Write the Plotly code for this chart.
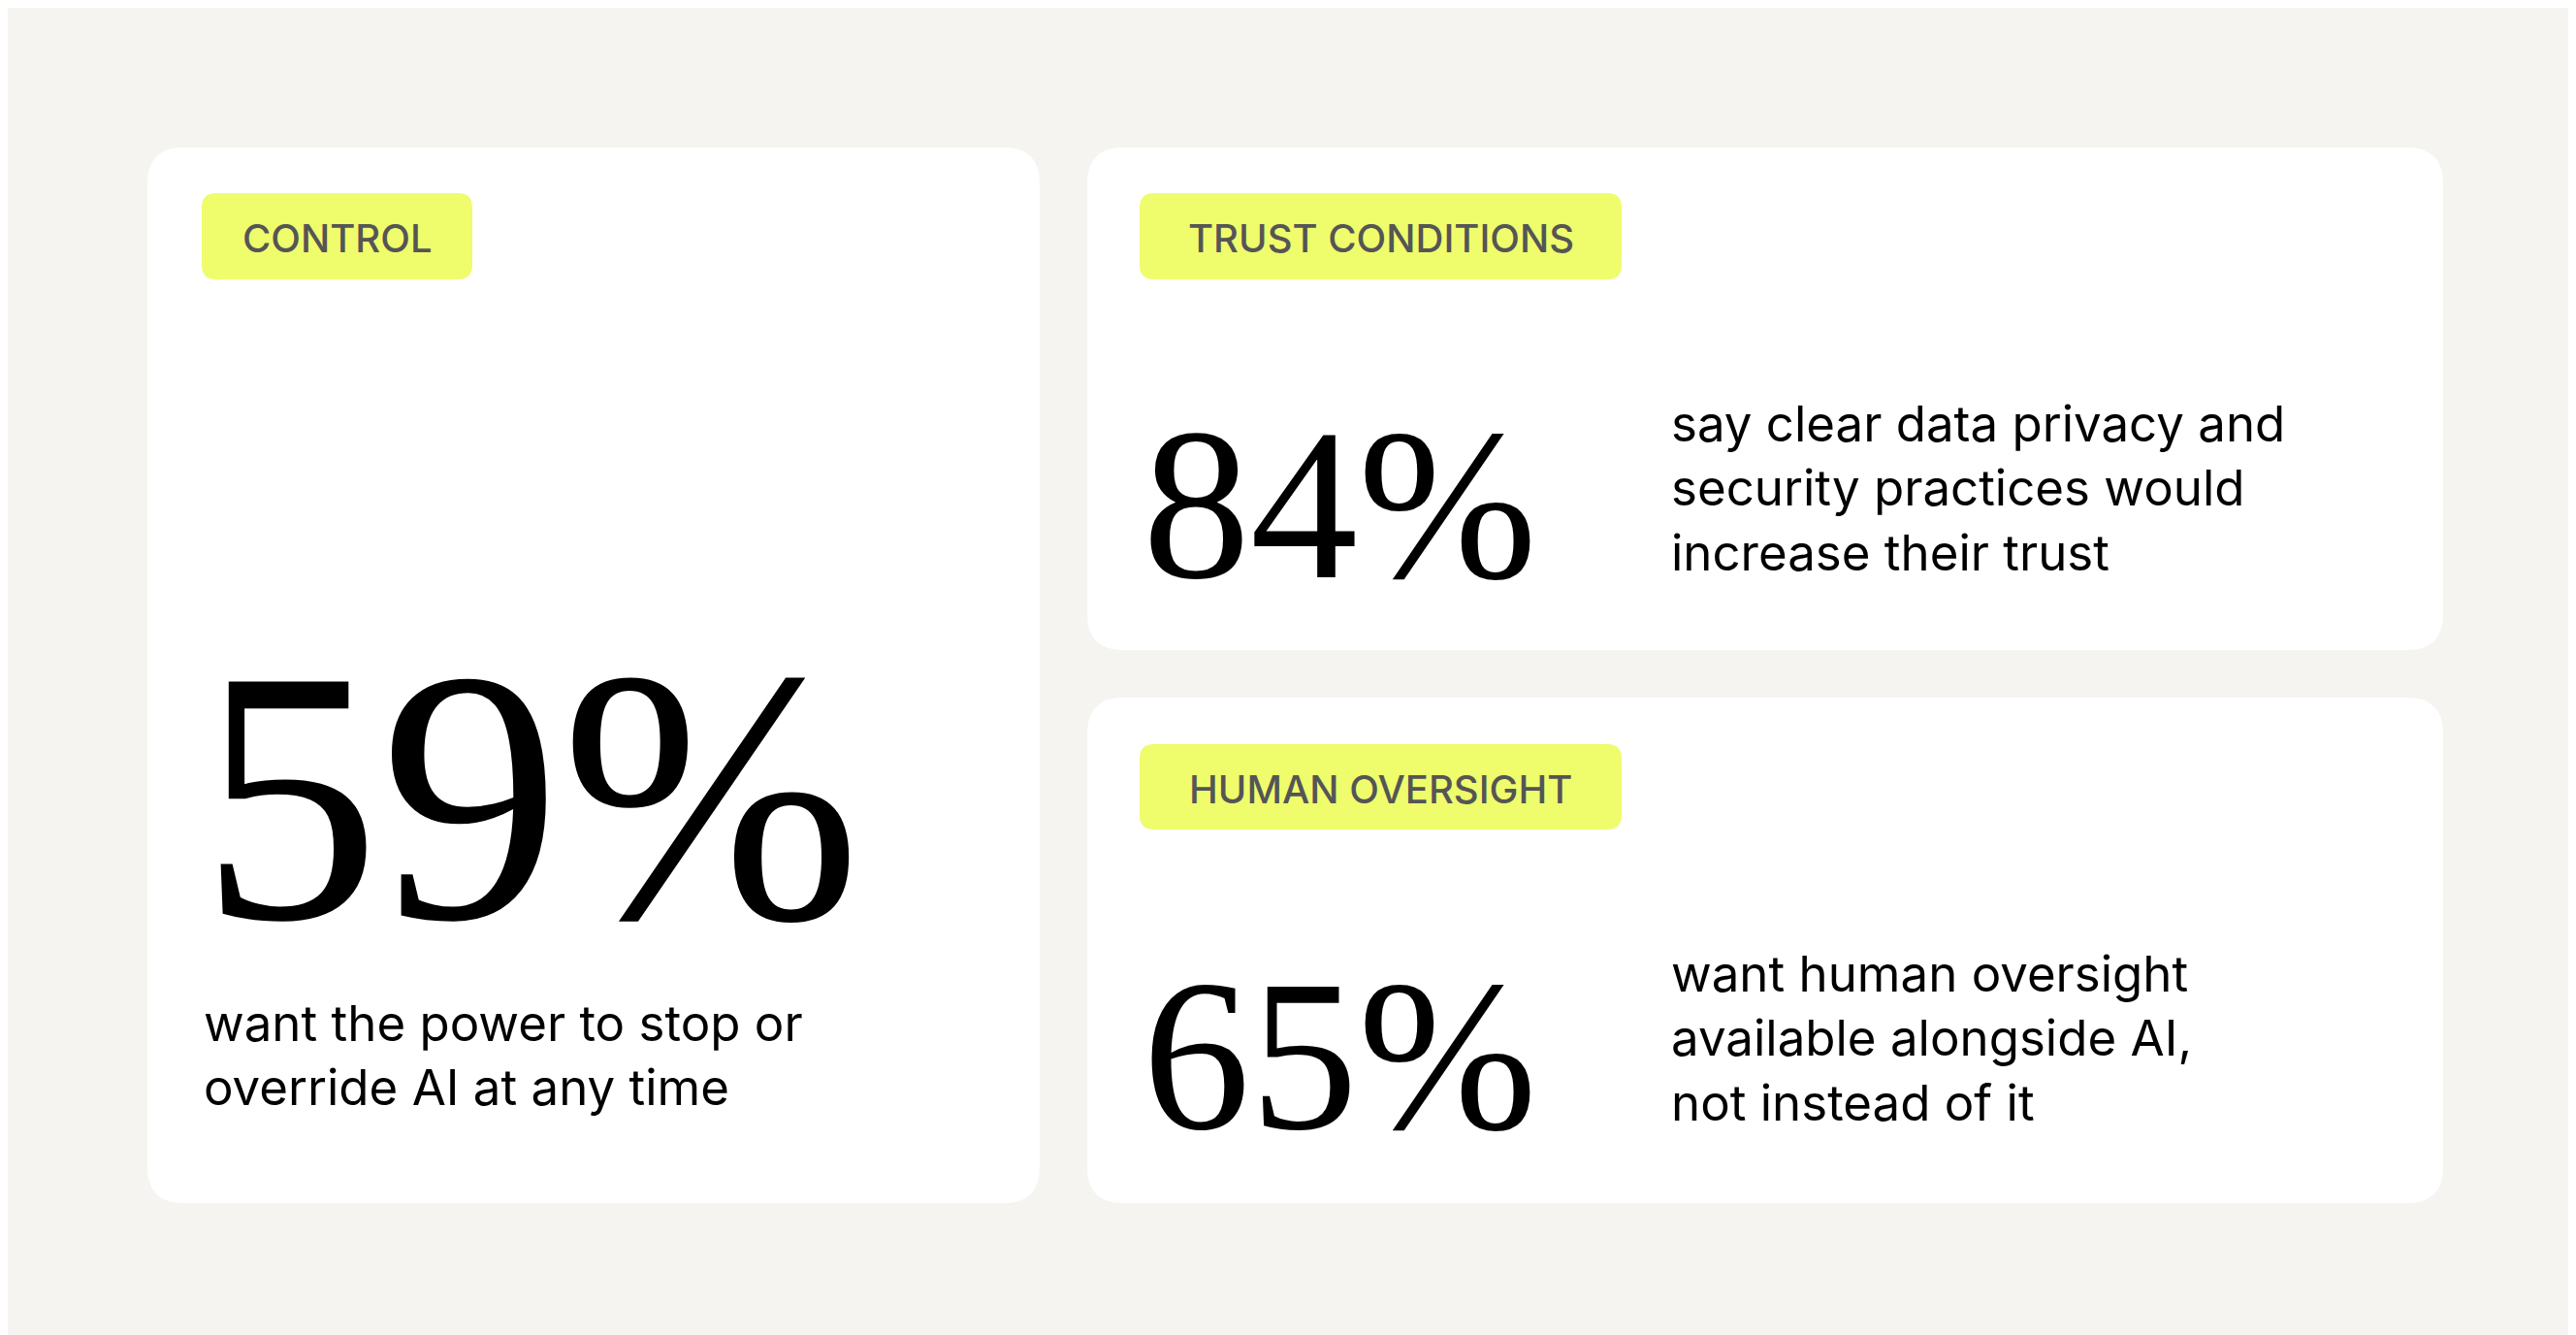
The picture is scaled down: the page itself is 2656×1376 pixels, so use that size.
import plotly.graph_objects as go

W, H = 2656, 1376
tags = ["CONTROL", "TRUST CONDITIONS", "HUMAN OVERSIGHT"]
stats = ["59%", "84%", "65%"]
descs = [
    ["want the power to stop or", "override AI at any time"],
    ["say clear data privacy and", "security practices would", "increase their trust"],
    ["want human oversight", "available alongside AI,", "not instead of it"],
]

# layout: cards (x0,y0,x1,y1), tag boxes, stat position, desc position
cards = [(144, 144, 1064, 1232), (1113, 144, 2511, 662), (1113, 711, 2511, 1232)]
tagboxes = [(200, 191, 479, 280), (1167, 191, 1664, 280), (1167, 759, 1664, 847)]
stat_pos = [(196, 812, 372), (1168, 512, 222), (1168, 1080, 222)]
desc_pos = [(200, 1079), (1713, 495), (1713, 1062)]

def rr(x0, y0, x1, y1, r):
    return (f"M{x0+r},{y0} L{x1-r},{y0} Q{x1},{y0} {x1},{y0+r} L{x1},{y1-r} Q{x1},{y1} {x1-r},{y1} "
            f"L{x0+r},{y1} Q{x0},{y1} {x0},{y1-r} L{x0},{y0+r} Q{x0},{y0} {x0+r},{y0} Z")

fig = go.Figure()
shapes, anns = [], []
for i in range(3):
    shapes.append(dict(type="path", path=rr(*cards[i], 37), fillcolor="white", line_width=0, layer="below"))
    shapes.append(dict(type="path", path=rr(*tagboxes[i], 15), fillcolor="#effc6c", line_width=0, layer="below"))
    tx0, ty0, tx1, ty1 = tagboxes[i]
    anns.append(dict(x=(tx0 + tx1) / 2, y=(ty0 + ty1) / 2 + 2, text=tags[i], showarrow=False,
                     xanchor="center", yanchor="middle",
                     font=dict(family="Inter", size=40, color="#555555", weight=500)))
    sx, sy, ss = stat_pos[i]
    anns.append(dict(x=sx, y=sy, text=stats[i], showarrow=False, xanchor="left", yanchor="middle",
                     font=dict(family="Liberation Serif", size=ss, color="#000000")))
    dx, dy = desc_pos[i]
    anns.append(dict(x=dx, y=dy, text="<br>".join(descs[i]), showarrow=False, xanchor="left",
                     yanchor="middle", align="left",
                     font=dict(family="Inter", size=51, color="#000000")))

fig.update_layout(
    width=W, height=H, margin=dict(l=0, r=0, t=0, b=0),
    paper_bgcolor="#f5f4f0", plot_bgcolor="#f5f4f0",
    xaxis=dict(range=[0, W], visible=False, fixedrange=True),
    yaxis=dict(range=[H, 0], visible=False, fixedrange=True),
    shapes=shapes, annotations=anns, showlegend=False,
)
fig.write_html("out.html", config={"displayModeBar": False})
